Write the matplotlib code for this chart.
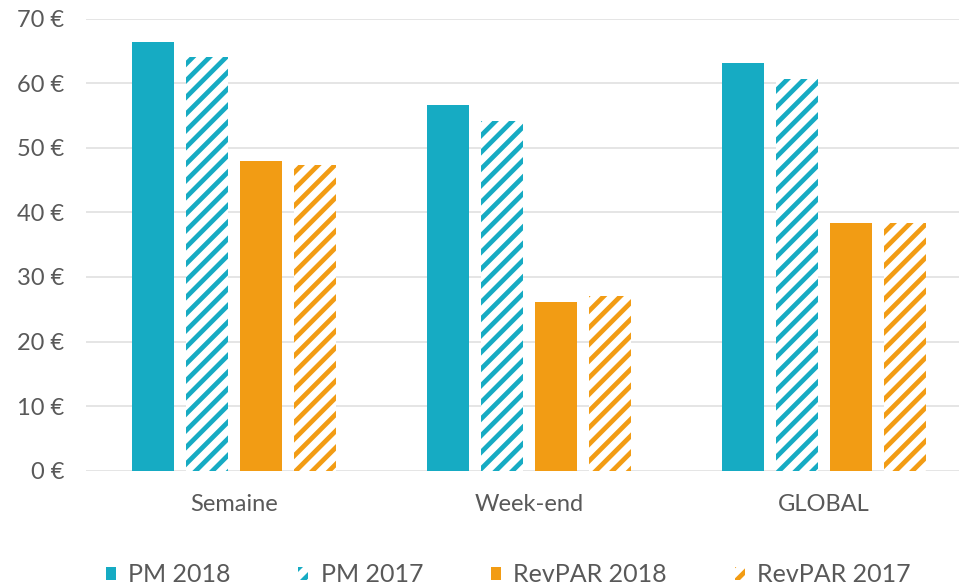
import matplotlib
matplotlib.use("Agg")
import matplotlib.pyplot as plt
import numpy as np
from matplotlib.patches import Patch

categories = ["Semaine", "Week-end", "GLOBAL"]
series_names = ["PM 2018", "PM 2017", "RevPAR 2018", "RevPAR 2017"]
pm_2018 = [66.4, 56.6, 63.1]
pm_2017 = [64.1, 54.2, 60.7]
revpar_2018 = [48.0, 26.1, 38.4]
revpar_2017 = [47.3, 27.1, 38.4]
yticks = [0, 10, 20, 30, 40, 50, 60, 70]
ytick_labels = ["0 €", "10 €", "20 €", "30 €", "40 €", "50 €", "60 €", "70 €"]

CYAN = "#16abc3"
ORANGE = "#f29c14"
TEXT = "#595959"
GRID = "#e3e3e3"

plt.rcParams["font.family"] = ["Lato", "DejaVu Sans"]
plt.rcParams["hatch.linewidth"] = 3.4

fig = plt.figure(figsize=(9.59, 5.86), dpi=100)
ax = fig.add_axes([0.090, 0.1968, 0.910, 0.7713])

x = np.arange(len(categories))
width = 0.142
offsets = [-0.274, -0.0915, 0.0915, 0.274]
values = [pm_2018, pm_2017, revpar_2018, revpar_2017]
colors = [CYAN, CYAN, ORANGE, ORANGE]
hatched = [False, True, False, True]

for vals, off, col, h in zip(values, offsets, colors, hatched):
    if h:
        ax.bar(x + off, vals, width, facecolor="white", edgecolor=col,
               hatch="//", linewidth=0, zorder=3)
    else:
        ax.bar(x + off, vals, width, color=col, linewidth=0, zorder=3)

ax.set_xlim(-0.5, 2.458)
ax.set_ylim(0, 70)
ax.set_yticks(yticks)
ax.set_yticklabels(ytick_labels)
ax.set_xticks(x)
ax.set_xticklabels(categories)
ax.tick_params(axis="y", length=0, pad=16, labelsize=17, labelcolor=TEXT)
ax.tick_params(axis="x", length=0, pad=17, labelsize=17, labelcolor=TEXT)
ax.grid(axis="y", color=GRID, linewidth=1.3, zorder=0)
ax.set_axisbelow(True)
for s in ax.spines.values():
    s.set_visible(False)

handles = []
for c, h in zip(colors, hatched):
    if h:
        handles.append(Patch(facecolor="white", edgecolor=c, hatch="//", linewidth=0))
    else:
        handles.append(Patch(facecolor=c, edgecolor=c, linewidth=0))
leg = fig.legend(handles, series_names, loc="lower left", bbox_to_anchor=(0.087, -0.039),
                 ncol=4, frameon=False, fontsize=18, handlelength=0.4, handleheight=0.45,
                 handletextpad=0.5, columnspacing=2.7, labelcolor=TEXT)

fig.savefig("out.png", dpi=100)
